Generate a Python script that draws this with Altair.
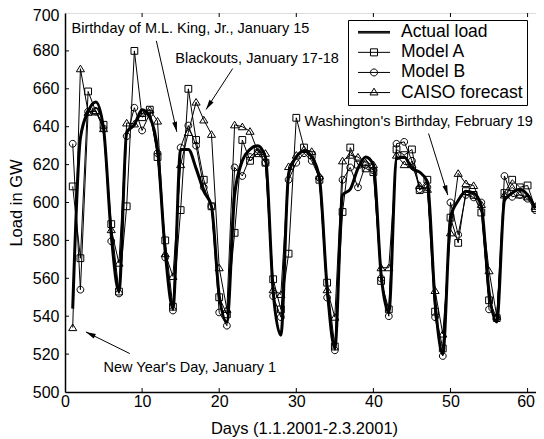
import math
import altair as alt
import pandas as pd

# ---------------- data ----------------
days = list(range(1, 62))

actual = [544, 634, 648, 653, 639, 583, 553, 637, 641, 649,
          645, 628, 574, 544, 628, 628, 618, 606, 598, 551,
          537, 604, 622, 628, 630, 624, 553, 530, 615, 624,
          627, 624, 613, 555, 523, 604, 607, 618, 624, 620,
          562, 542, 623, 624, 618, 616, 611, 548, 520, 592,
          601, 606, 605, 598, 553, 537, 601, 605, 607, 604, 597]

model_a = [608.5, 570.6, 658.6, 648, 641, 588.6, 553, 598, 680, 645,
           649, 624, 580, 545, 596, 660, 633, 612, 598, 550,
           541, 584, 633, 622, 626, 621, 559.5, 543.6, 573, 644.7,
           629, 625, 612, 557.7, 524, 595, 629, 620, 618, 616,
           558.6, 543.6, 628, 625, 628, 606.5, 612, 542.4, 523, 592,
           578.7, 606, 604, 594.7, 548.4, 539, 605, 612, 608, 609, 597]

model_b = [631, 554, 648, 648, 639, 579.6, 552, 635, 650, 638,
           647, 626, 571, 543, 629, 640.6, 630, 608, 598, 542,
           535, 618.5, 614, 624, 628, 621, 550.6, 539.5, 612, 621,
           626, 622, 613, 549.8, 522, 612, 618.5, 608, 620, 617,
           560, 540, 631, 632, 622, 607, 608, 539.5, 519, 600,
           583, 604, 602.7, 600, 543.6, 539, 614, 603, 604, 602, 596]

caiso = [534, 670.6, 647.6, 648.5, 639, 585.7, 568, 642, 641.5, 647,
         649, 643, 573, 561, 620, 637, 653, 643.6, 636, 565.6,
         543.6, 641, 640, 637.6, 627, 626, 554, 551.5, 619, 625,
         628, 627, 614, 554, 539.5, 622, 625, 624, 621, 620,
         565.6, 565.6, 625, 620, 620, 609, 607, 553.6, 530.6, 584,
         615.4, 610, 609, 599, 564, 540, 604, 608, 604, 603, 598]

series_names = ["Actual load", "Model A", "Model B", "CAISO forecast"]
model_names = ["Model A", "Model B", "CAISO forecast"]

x_ticks = [0, 10, 20, 30, 40, 50, 60]
y_ticks = [500, 520, 540, 560, 580, 600, 620, 640, 660, 680, 700]

ann_text = ["Birthday of M.L. King, Jr., January 15",
            "Blackouts, January 17-18",
            "Washington's Birthday, February 19",
            "New Year's Day, January 1"]
ann_day = [0.85, 14.3, 31.05, 5.0]
ann_val = [689.5, 673.4, 640.3, 510.6]
arrow_day_from = [11.85, 21.75, 47.16, 8.4]
arrow_val_from = [685.3, 670.7, 636.4, 520.3]
arrow_day_to = [14.5, 18.3, 49.65, 2.71]
arrow_val_to = [637.3, 649.1, 603.9, 531.7]

# ---------------- layout ----------------
W, H = 478, 379
XMIN, XMAX = 0, 62
YMIN, YMAX = 500, 700
FONT = "Liberation Sans"

rows = []
for name, vals in zip(series_names, [actual, model_a, model_b, caiso]):
    for d, v in zip(days, vals):
        rows.append({"day": d, "value": v, "series": name})
df = pd.DataFrame(rows)
df_models = df[df["series"] != "Actual load"]
df_actual = df[df["series"] == "Actual load"]

px_x = W / (XMAX - XMIN)
px_y = H / (YMAX - YMIN)
angles = []
for x1, y1, x2, y2 in zip(arrow_day_from, arrow_val_from, arrow_day_to, arrow_val_to):
    dx = (x2 - x1) * px_x
    dy = -(y2 - y1) * px_y
    angles.append(math.degrees(math.atan2(dx, -dy)) % 360)

df_arrows = pd.DataFrame({"day": arrow_day_from, "value": arrow_val_from,
                          "day2": arrow_day_to, "value2": arrow_val_to,
                          "angle": angles})
df_heads = pd.DataFrame({"day": arrow_day_to, "value": arrow_val_to, "angle": angles})
df_text = pd.DataFrame({"day": ann_day, "value": ann_val, "label": ann_text})
df_xt = pd.DataFrame({"day": x_ticks[1:]})
df_yt = pd.DataFrame({"value": y_ticks[1:-1]})

x_scale = alt.Scale(domain=[XMIN, XMAX], nice=False, zero=False)
y_scale = alt.Scale(domain=[YMIN, YMAX], nice=False, zero=False)

x_axis = alt.Axis(values=x_ticks, title="Days (1.1.2001-2.3.2001)", ticks=False,
                  grid=False, labelFontSize=16, titleFontSize=16.5,
                  labelPadding=1, titlePadding=11, domainColor="black",
                  domainWidth=1.5, labelColor="black", titleColor="black",
                  labelFont=FONT, titleFont=FONT, titleFontWeight="normal",
                  labelFlush=False, labelOverlap=False,
                  labelOffset={"condition": {"test": "datum.value == 60", "value": -2},
                               "value": 0})
y_axis = alt.Axis(values=y_ticks, title="Load in GW", ticks=False, grid=False,
                  labelFontSize=16, titleFontSize=16.5, labelPadding=6,
                  titlePadding=8, domainColor="black", domainWidth=1.5,
                  labelColor="black", titleColor="black", labelFont=FONT,
                  titleFont=FONT, titleFontWeight="normal", labelOverlap=False,
                  labelOffset={"condition": {"test": "datum.value == 700", "value": 2},
                               "value": 0})


def X():
    return alt.X("day:Q", scale=x_scale, axis=x_axis)


def Y():
    return alt.Y("value:Q", scale=y_scale, axis=y_axis)


model_lines = alt.Chart(df_models).mark_line(color="black", strokeWidth=1).encode(
    x=X(), y=Y(), detail="series:N")

actual_line = alt.Chart(df_actual).mark_line(
    color="black", strokeWidth=3, interpolate="monotone").encode(x=X(), y=Y())

marker_paths = ["M-1,-1H1V1H-1Z",
                "M1,0A1,1,0,1,1,-1,0A1,1,0,1,1,1,0Z",
                "M0,-1.05L1.2,0.9H-1.2Z"]
points = alt.Chart(df_models).mark_point(
    filled=False, size=46, strokeWidth=1, color="black", opacity=1).encode(
    x=X(), y=Y(),
    shape=alt.Shape("series:N", scale=alt.Scale(domain=model_names, range=marker_paths),
                    legend=None))

legend_paths = ["M-2,-0.1H2M-2,0H2M-2,0.1H2",
                "M-2,0H2M-0.44,-0.44H0.44V0.44H-0.44Z",
                "M-2,0H2M0.44,0A0.44,0.44,0,1,1,-0.44,0A0.44,0.44,0,1,1,0.44,0Z",
                "M-2,0H2M0,-0.55L0.5,0.3H-0.5Z"]
legend_layer = alt.Chart(df).mark_point(
    filled=False, size=256, strokeWidth=1, color="black", opacity=1).encode(
    x=X(), y=Y(),
    shape=alt.Shape("series:N",
                    scale=alt.Scale(domain=series_names, range=legend_paths),
                    legend=alt.Legend(orient="none", legendX=283, legendY=7,
                                      title=None, padding=3.5, strokeColor="black",
                                      fillColor="white", labelFontSize=17.5,
                                      labelFont=FONT, labelColor="black",
                                      symbolSize=256, symbolOffset=13.75,
                                      labelOffset=18.25, rowPadding=1.1,
                                      symbolStrokeWidth=1, symbolStrokeColor="black",
                                      labelLimit=400,
                                      labelExpr="datum.label + '  '"))
).transform_filter("false")

tick_len = 4
ticks_bottom = alt.Chart(df_xt).mark_rule(color="black", strokeWidth=1).encode(
    x=X(), y=alt.value(H), y2=alt.value(H - tick_len))
ticks_top = alt.Chart(df_xt).mark_rule(color="black", strokeWidth=1).encode(
    x=X(), y=alt.value(0), y2=alt.value(tick_len))
ticks_left = alt.Chart(df_yt).mark_rule(color="black", strokeWidth=1).encode(
    y=Y(), x=alt.value(0), x2=alt.value(tick_len))
ticks_right = alt.Chart(df_yt).mark_rule(color="black", strokeWidth=1).encode(
    y=Y(), x=alt.value(W), x2=alt.value(W - tick_len))

arrows = alt.Chart(df_arrows).mark_rule(color="black", strokeWidth=1).encode(
    x=X(), y=Y(), x2="day2:Q", y2="value2:Q")
heads = alt.Chart(df_heads).mark_point(
    shape="M0,0L-0.55,2.2L0.55,2.2Z", filled=True, size=81, color="black",
    opacity=1, strokeWidth=0).encode(
    x=X(), y=Y(), angle=alt.Angle("angle:Q", scale=None))

texts = alt.Chart(df_text).mark_text(
    align="left", baseline="alphabetic", fontSize=14.5, font=FONT,
    color="black").encode(x=X(), y=Y(), text="label:N")

chart = alt.layer(
    model_lines, actual_line, points, ticks_bottom, ticks_top, ticks_left,
    ticks_right, arrows, heads, texts, legend_layer
).resolve_scale(shape="independent").properties(
    width=W, height=H,
    padding={"left": 57, "top": 5, "right": -7, "bottom": 46},
    autosize=alt.AutoSizeParams(type="none"),
    background="white",
).configure_view(stroke="black", strokeWidth=1).configure(font=FONT)

chart.save("out.html", embed_options={"renderer": "svg", "actions": False})
